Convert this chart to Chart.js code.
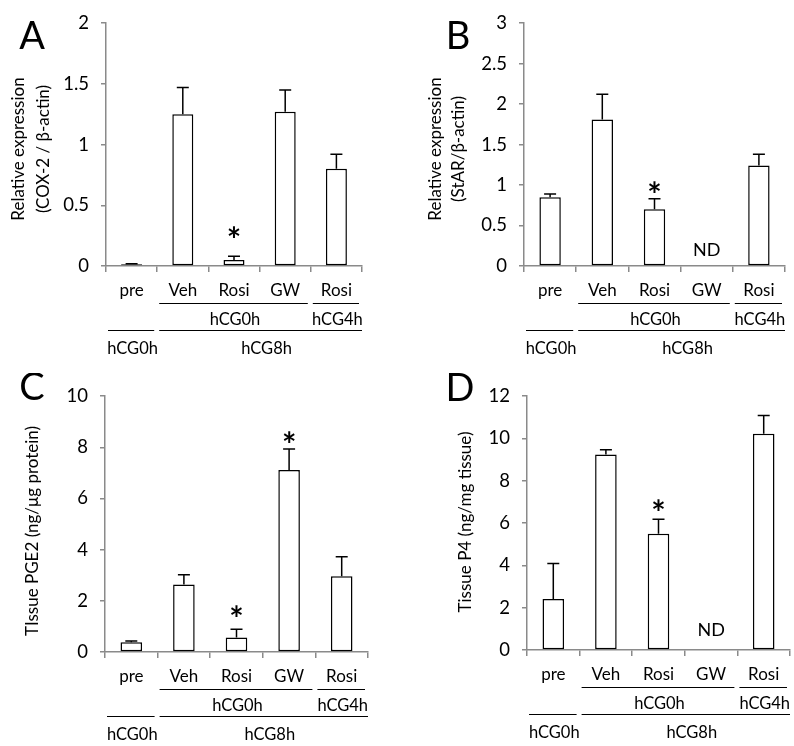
<!DOCTYPE html>
<html>
<head>
<meta charset="utf-8">
<script src="https://cdn.jsdelivr.net/npm/chart.js@4.4.1/dist/chart.umd.min.js"></script>
<style>
html, body { margin: 0; padding: 0; background: #fff; }
#wrap { position: relative; width: 794px; height: 746px; }
#wrap canvas { position: absolute; }
</style>
</head>
<body>
<div id="wrap">
  <canvas id="chartA" width="397" height="373" style="left:0;top:0"></canvas>
  <canvas id="chartB" width="397" height="373" style="left:397px;top:0"></canvas>
  <canvas id="chartC" width="397" height="373" style="left:0;top:373px"></canvas>
  <canvas id="chartD" width="397" height="373" style="left:397px;top:373px"></canvas>
</div>
<script>
var categories = ['pre', 'Veh', 'Rosi', 'GW', 'Rosi'];
var topGroups = [{ label: 'hCG0h', from: 1, to: 3 }, { label: 'hCG4h', from: 4, to: 4 }];
var bottomGroups = [{ label: 'hCG0h', from: 0, to: 0 }, { label: 'hCG8h', from: 1, to: 4 }];

// A - COX-2 mRNA
var cox2Mean = [0.015, 1.25, 0.05, 1.27, 0.80];
var cox2Sem = [0.004, 0.22, 0.03, 0.18, 0.12];
var cox2Star = [null, null, 0.28, null, null];

// B - StAR mRNA (GW not detected)
var starMean = [0.85, 1.81, 0.70, null, 1.24];
var starSem = [0.04, 0.31, 0.13, null, 0.14];
var starStar = [null, null, 0.97, null, null];
var starND = [null, null, null, 0.19, null];

// C - tissue PGE2
var pge2Mean = [0.38, 2.64, 0.57, 7.11, 2.96];
var pge2Sem = [0.05, 0.38, 0.32, 0.82, 0.76];
var pge2Star = [null, null, 1.6, 8.4, null];

// D - tissue P4 (GW not detected)
var p4Mean = [2.41, 9.24, 5.49, null, 10.22];
var p4Sem = [1.68, 0.23, 0.69, null, 0.86];
var p4Star = [null, null, 6.87, null, null];
var p4ND = [null, null, null, 0.92, null];

var ink = '#000';
var axisGrey = '#8a8a8a';
Chart.defaults.font.family = 'Lato';

var decor = {
    id: 'decor',
    afterDraw: function (chart) {
        var o = chart.options.plugins.decor;
        var ctx = chart.ctx, x = chart.scales.x, y = chart.scales.y;
        var half = (x.getPixelForValue(1) - x.getPixelForValue(0)) / 2;
        var left = function (i) { return x.getPixelForValue(i) - half; };
        var right = function (i) { return x.getPixelForValue(i) + half; };
        ctx.save();

        // error bars (upper half only)
        ctx.strokeStyle = '#000';
        ctx.lineWidth = 1.5;
        o.mean.forEach(function (m, i) {
            if (m == null) return;
            var xc = x.getPixelForValue(i);
            var y0 = y.getPixelForValue(m), y1 = y.getPixelForValue(m + o.sem[i]);
            ctx.beginPath();
            ctx.moveTo(xc, y0); ctx.lineTo(xc, y1);
            ctx.moveTo(xc - 6, y1); ctx.lineTo(xc + 6, y1);
            ctx.stroke();
        });

        // asterisks
        ctx.fillStyle = '#000';
        ctx.textAlign = 'center';
        ctx.textBaseline = 'alphabetic';
        ctx.font = 'bold 34px Lato';
        o.stars.forEach(function (s, i) {
            if (s == null) return;
            var m = ctx.measureText('*');
            var yc = y.getPixelForValue(s);
            ctx.fillText('*', x.getPixelForValue(i), yc + (m.actualBoundingBoxAscent - m.actualBoundingBoxDescent) / 2);
        });

        // ND labels
        ctx.font = '18px Lato';
        ctx.textBaseline = 'middle';
        ctx.fillStyle = ink;
        (o.nd || []).forEach(function (v, i) {
            if (v == null) return;
            ctx.fillText('ND', x.getPixelForValue(i), y.getPixelForValue(v));
        });

        // group brackets under the axis
        var b = chart.chartArea.bottom;
        ctx.strokeStyle = '#000';
        ctx.lineWidth = 1.2;
        ctx.font = '16.5px Lato';
        topGroups.forEach(function (g) {
            ctx.beginPath();
            ctx.moveTo(left(g.from) + 2, b + 37.5);
            ctx.lineTo(right(g.to) - 3, b + 37.5);
            ctx.stroke();
            ctx.fillText(g.label, (left(g.from) + right(g.to)) / 2 + 1, b + 54);
        });
        bottomGroups.forEach(function (g, k) {
            ctx.beginPath();
            ctx.moveTo(left(g.from) + 2, b + 64.5);
            ctx.lineTo(right(g.to) - (k === 0 ? 3 : 0), b + 64.5);
            ctx.stroke();
            ctx.fillText(g.label, (left(g.from) + right(g.to)) / 2 + (k === 0 ? 1 : 7), b + 83);
        });

        // y axis title
        ctx.font = '17px Lato';
        o.title.forEach(function (line, k) {
            ctx.save();
            ctx.translate(o.titleX[k], o.titleY);
            ctx.rotate(-Math.PI / 2);
            ctx.fillText(line, 0, 0);
            ctx.restore();
        });

        // panel letter
        ctx.font = '38px Lato';
        ctx.fillStyle = '#000';
        ctx.fillText(o.letter, o.letterPos[0], o.letterPos[1]);
        ctx.restore();
    }
};

function makePanel(id, p) {
    return new Chart(document.getElementById(id), {
        type: 'bar',
        data: {
            labels: categories,
            datasets: [{
                data: p.mean,
                backgroundColor: '#fff',
                borderColor: '#000',
                borderWidth: 1.5,
                borderSkipped: false,
                barPercentage: 0.41,
                categoryPercentage: 1
            }]
        },
        options: {
            responsive: false,
            animation: false,
            devicePixelRatio: 1,
            layout: { padding: { left: 0, top: p.top, right: p.padRight, bottom: 0 } },
            plugins: {
                legend: { display: false },
                tooltip: { enabled: false },
                decor: p
            },
            scales: {
                x: {
                    grid: { offset: true, drawOnChartArea: false, drawTicks: true, tickLength: 6, color: axisGrey, lineWidth: 1.5 },
                    border: { color: axisGrey, width: 1.5 },
                    ticks: { font: { size: 17 }, color: ink, padding: 8 },
                    afterFit: function (s) { s.height = p.xHeight; }
                },
                y: {
                    min: 0,
                    max: p.max,
                    grid: { drawOnChartArea: false, drawTicks: true, tickLength: 5, color: axisGrey, lineWidth: 1.5 },
                    border: { color: axisGrey, width: 1.5 },
                    ticks: {
                        stepSize: p.step, font: { size: 18.5 }, color: ink, padding: 12,
                        callback: function (v) { return String(v); }
                    },
                    afterFit: function (s) { s.width = p.yWidth; }
                }
            }
        },
        plugins: [decor]
    });
}

makePanel('chartA', {
    mean: cox2Mean, sem: cox2Sem, stars: cox2Star, max: 2, step: 0.5,
    yWidth: 106, padRight: 35, top: 21, xHeight: 107,
    title: ['Relative expression', '(COX-2 / \u03b2-actin)'], titleX: [19, 44], titleY: 149,
    letter: 'A', letterPos: [32, 37]
});
makePanel('chartB', {
    mean: starMean, sem: starSem, stars: starStar, nd: starND, max: 3, step: 0.5,
    yWidth: 127, padRight: 9, top: 13, xHeight: 107,
    title: ['Relative expression', '(StAR/\u03b2-actin)'], titleX: [39, 61.5], titleY: 149,
    letter: 'B', letterPos: [61, 37]
});
makePanel('chartC', {
    mean: pge2Mean, sem: pge2Sem, stars: pge2Star, max: 10, step: 2,
    yWidth: 105, padRight: 29, top: 16, xHeight: 94,
    title: ['TIssue PGE2 (ng/\u03bcg protein)'], titleX: [33], titleY: 158,
    letter: 'C', letterPos: [32, 15]
});
makePanel('chartD', {
    mean: p4Mean, sem: p4Sem, stars: p4Star, nd: p4ND, max: 12, step: 2,
    yWidth: 130, padRight: 4, top: 16, xHeight: 96,
    title: ['Tissue P4 (ng/mg tissue)'], titleX: [68.5], titleY: 149,
    letter: 'D', letterPos: [63, 16]
});
</script>
</body>
</html>
